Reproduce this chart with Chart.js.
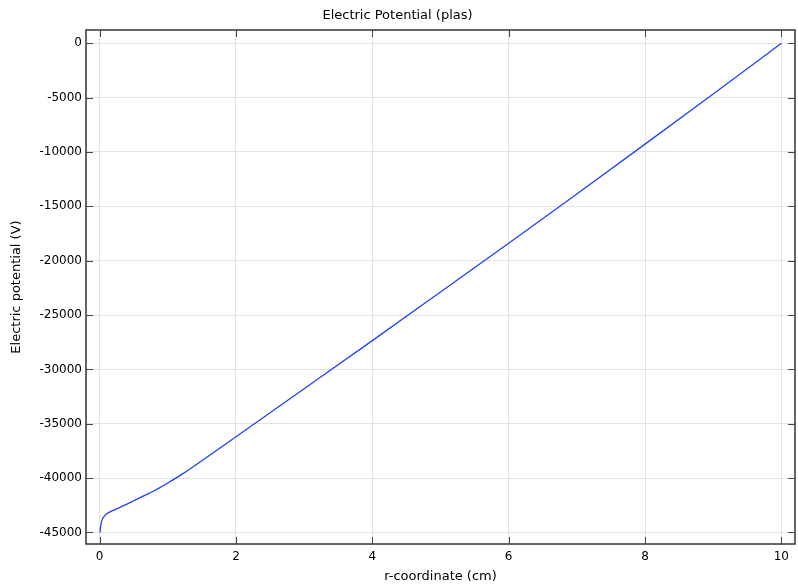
<!DOCTYPE html>
<html>
<head>
<meta charset="utf-8">
<script src="https://cdn.jsdelivr.net/npm/chart.js@4/dist/chart.umd.min.js"></script>
<style>
  html, body { margin: 0; padding: 0; background: #fff; }
  #wrap { width: 798px; height: 586px; }
</style>
</head>
<body>
<div id="wrap"><canvas id="potentialChart" width="798" height="586"></canvas></div>
<script>
// r-coordinate (cm) and potential (V)
const rValues = [0.005, 0.015, 0.03, 0.06, 0.1, 0.2, 0.3, 0.4, 0.5, 0.6, 0.7, 0.8, 0.9, 1.0, 1.2, 1.5, 1.75, 2, 2.5, 3, 4, 5, 6, 7, 8, 9, 10];
const potential = [-45000, -44450, -43950, -43580, -43300, -42960, -42690, -42390, -42080, -41770, -41480, -41160, -40810, -40450, -39680, -38400, -37300, -36200, -33990, -31780, -27350, -22880, -18400, -13860, -9280, -4670, 0];

const xTicks = [0, 2, 4, 6, 8, 10];
const yTicks = [0, -5000, -10000, -15000, -20000, -25000, -30000, -35000, -40000, -45000];

const titleText = 'Electric Potential (plas)';
const xTitle = 'r-coordinate (cm)';
const yTitle = 'Electric potential (V)';

const FONT = 'DejaVu Sans';

// box frame + inward tick marks on all four sides
const frameTicks = {
  id: 'frameTicks',
  afterDraw(chart) {
    const { ctx, chartArea: a, scales } = chart;
    const len = 7;
    ctx.save();
    ctx.strokeStyle = '#444';
    ctx.lineWidth = 1;
    ctx.beginPath();
    xTicks.forEach(v => {
      const px = Math.round(scales.x.getPixelForValue(v)) + 0.5;
      ctx.moveTo(px, a.bottom); ctx.lineTo(px, a.bottom - len);
      ctx.moveTo(px, a.top); ctx.lineTo(px, a.top + len);
    });
    yTicks.forEach(v => {
      const py = Math.round(scales.y.getPixelForValue(v)) + 0.5;
      ctx.moveTo(a.left, py); ctx.lineTo(a.left + len, py);
      ctx.moveTo(a.right, py); ctx.lineTo(a.right - len, py);
    });
    ctx.stroke();
    ctx.lineWidth = 1.5;
    ctx.strokeStyle = '#333';
    ctx.strokeRect(a.left, a.top, a.right - a.left, a.bottom - a.top);
    ctx.restore();
  }
};

new Chart(document.getElementById('potentialChart').getContext('2d'), {
  type: 'line',
  data: {
    datasets: [{
      data: rValues.map((r, i) => ({ x: r, y: potential[i] })),
      borderColor: '#2040ff',
      borderWidth: 1.3,
      pointRadius: 0,
      fill: false,
      cubicInterpolationMode: 'monotone'
    }]
  },
  options: {
    responsive: false,
    animation: false,
    layout: { padding: { left: 0, right: 3, top: 0, bottom: 0 } },
    plugins: {
      legend: { display: false },
      tooltip: { enabled: false },
      title: {
        display: true,
        text: titleText,
        color: '#000',
        font: { family: FONT, size: 13, weight: 'normal' },
        padding: { top: 8, bottom: 6.4 }
      }
    },
    scales: {
      x: {
        type: 'linear',
        min: -0.2,
        max: 10.2,
        afterBuildTicks: s => { s.ticks = xTicks.map(v => ({ value: v })); },
        afterFit: s => { s.height = 42; },
        grid: { color: '#e3e3e3', drawTicks: false },
        border: { display: false },
        ticks: { color: '#000', padding: 6, maxRotation: 0, font: { family: FONT, size: 12 }, callback: v => String(v) },
        title: { display: true, text: xTitle, color: '#000', font: { family: FONT, size: 13 }, padding: { top: 0, bottom: 2 } }
      },
      y: {
        type: 'linear',
        min: -46060,
        max: 1220,
        afterBuildTicks: s => { s.ticks = yTicks.map(v => ({ value: v })); },
        afterFit: s => { s.width = 86; },
        grid: { color: '#e3e3e3', drawTicks: false },
        border: { display: false },
        ticks: { color: '#000', padding: 4, font: { family: FONT, size: 12 }, callback: v => String(v) },
        title: { display: true, text: yTitle, color: '#000', font: { family: FONT, size: 13 }, padding: { top: 9, bottom: 0 } }
      }
    }
  },
  plugins: [frameTicks]
});
</script>
</body>
</html>
